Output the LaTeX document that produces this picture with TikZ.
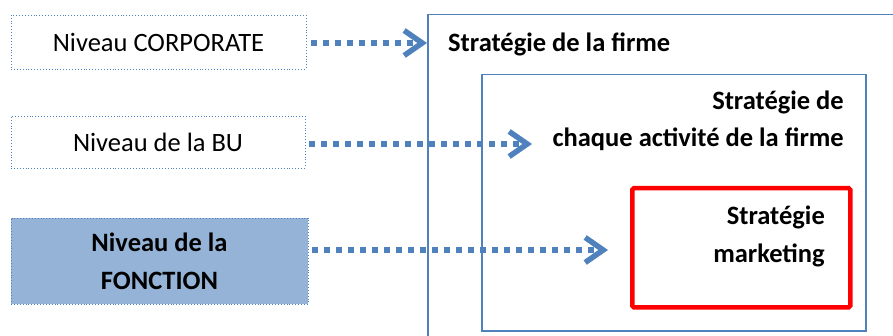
\documentclass[tikz,border=0pt]{standalone}
\usepackage{fontspec}
\setmainfont{Carlito}
\usetikzlibrary{arrows.meta}
\definecolor{acc}{RGB}{79,129,189}
\definecolor{fillb}{RGB}{149,179,215}
\definecolor{redb}{RGB}{255,0,0}
\begin{document}
\begin{tikzpicture}[x=1pt,y=-1pt,
  lvl/.style={draw=acc, line width=0.9pt, dotted, inner sep=0pt, font=\fontsize{26.5}{38}\selectfont, align=center},
  frame/.style={draw=acc, line width=1.5pt, inner sep=0pt, anchor=north west},
  redframe/.style={draw=redb, line width=4.5pt, rounded corners=1.5pt, inner sep=0pt, anchor=north west},
  lbl/.style={font=\fontsize{26.5}{38}\selectfont\bfseries, inner sep=0pt},
  conn/.style={draw=acc, line width=5.5pt, dash pattern=on 5.5pt off 6.5pt,
    -{Straight Barb[length=18pt,width=25pt,line width=5.5pt]}}
]
\useasboundingbox (0,0) rectangle (893,336);
\clip (0,0) rectangle (893,336);

% nested strategy frames
\node[frame, minimum width=523pt, minimum height=386pt] (firm) at (427,14) {};
\node[frame, minimum width=384pt, minimum height=256pt] (bu) at (481,74) {};
\node[redframe, minimum width=218pt, minimum height=119pt] (mkt) at (630,186) {};

% frame labels
\node[lbl, anchor=base west] (lf) at (448,52) {Stratégie de la firme};
\node[lbl, anchor=base east] (lb1) at (844,110) {Stratégie de};
\node[lbl, anchor=base east] (lb2) at (844,147) {chaque activité de la firme};
\node[lbl, anchor=base east] (lm1) at (825,225) {Stratégie};
\node[lbl, anchor=base east] (lm2) at (825,263) {marketing};

% level boxes
\node[lvl, minimum width=295pt, minimum height=54pt] (b1) at (158.5,42) {Niveau CORPORATE};
\node[lvl, minimum width=294pt, minimum height=52pt] (b2) at (158,142) {Niveau de la BU};
\node[lvl, fill=fillb, minimum width=297pt, minimum height=86pt, font=\fontsize{26.5}{38}\selectfont\bfseries] (b3) at (159.5,261) {Niveau de la\\FONCTION};

% connectors
\coordinate (t1) at (427,43);
\coordinate (t2) at (532,144);
\coordinate (t3) at (608,250);
\draw[conn, shorten <=5pt] (b1.east |- t1) -- (t1);
\draw[conn, shorten <=4pt] (b2.east |- t2) -- (t2);
\draw[conn, shorten <=4pt] (b3.east |- t3) -- (t3);
\end{tikzpicture}
\end{document}
